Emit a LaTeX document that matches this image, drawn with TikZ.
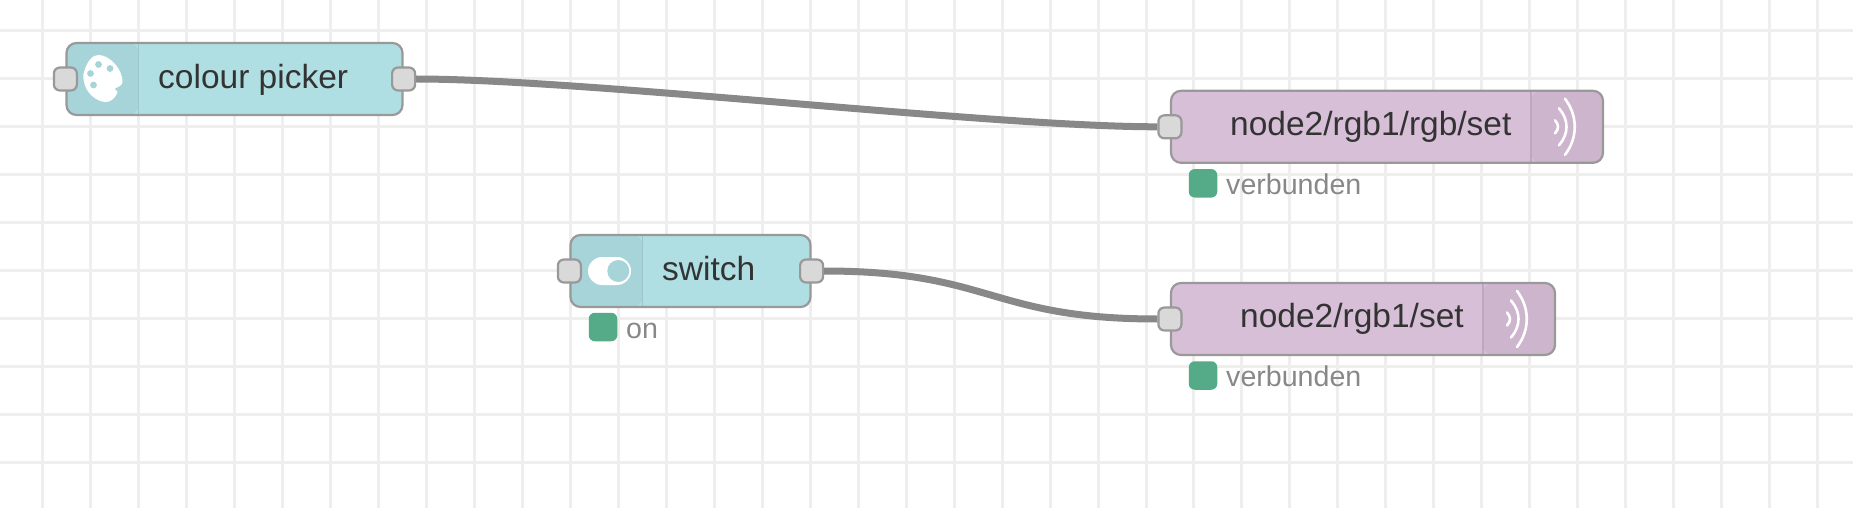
\documentclass[tikz,border=0pt]{standalone}
\usepackage{fontspec}
\setmainfont{Liberation Sans}
\definecolor{gridline}{HTML}{EEEEEE}
\definecolor{nodeline}{HTML}{999999}
\definecolor{tealfill}{HTML}{B0DFE3}
\definecolor{tealdark}{HTML}{A7D4D8}
\definecolor{tealedge}{HTML}{9CC6CA}
\definecolor{plumfill}{HTML}{D8BFD8}
\definecolor{plumdark}{HTML}{CDB5CD}
\definecolor{plumedge}{HTML}{BFA8BF}
\definecolor{portfill}{HTML}{D9D9D9}
\definecolor{wirecol}{HTML}{888888}
\definecolor{okgreen}{HTML}{55AA88}
\definecolor{labeltext}{HTML}{333333}
\tikzset{
	nodebox/.style={rectangle, draw=nodeline, line width=2.2pt, rounded corners=10pt, minimum height=72pt, inner sep=0pt},
	iconleft/.style={path picture={
		\fill[tealdark] (path picture bounding box.south west) rectangle ([xshift=72pt]path picture bounding box.north west);
		\draw[tealedge, line width=1.6pt] ([xshift=72pt]path picture bounding box.south west) -- ([xshift=72pt]path picture bounding box.north west);}},
	iconright/.style={path picture={
		\fill[plumdark] (path picture bounding box.south east) rectangle ([xshift=-72pt]path picture bounding box.north east);
		\draw[plumedge, line width=1.6pt] ([xshift=-72pt]path picture bounding box.south east) -- ([xshift=-72pt]path picture bounding box.north east);}},
	portbox/.style={rectangle, draw=nodeline, fill=portfill, line width=2.2pt, rounded corners=6pt, minimum width=23pt, minimum height=23pt, inner sep=0pt},
	dotbox/.style={rectangle, fill=okgreen, rounded corners=6pt, minimum width=28.5pt, minimum height=28.5pt, inner sep=0pt},
	titletext/.style={anchor=base west, inner sep=0pt, text=labeltext, font=\fontsize{33.5}{40}\selectfont},
	statetext/.style={anchor=base west, inner sep=0pt, text=wirecol, font=\fontsize{28.6}{34}\selectfont},
	wire/.style={draw=wirecol, line width=7pt},
}
\begin{document}
\begin{tikzpicture}[x=1pt, y=-1pt]
	\useasboundingbox (0,0) rectangle (1853,508);
	% grid
	\fill[white] (0,0) rectangle (1853,508);
	\foreach \k in {0,...,37}
		\draw[gridline, line width=3pt] ({42.7+47.97*\k},0) -- ({42.7+47.97*\k},508);
	\foreach \k in {0,...,9}
		\draw[gridline, line width=3pt] (0,{31+47.9*\k}) -- (1853,{31+47.9*\k});

	% nodes
	\node (picker) [nodebox, fill=tealfill, iconleft, minimum width=336pt] at (234.5,79) {};
	\node (switch) [nodebox, fill=tealfill, iconleft, minimum width=240pt] at (690.5,271) {};
	\node (rgbset) [nodebox, fill=plumfill, iconright, minimum width=432pt] at (1387,126.8) {};
	\node (onset) [nodebox, fill=plumfill, iconright, minimum width=384pt] at (1363,319) {};

	% ports
	\node (pickerin) [portbox] at (picker.west) {};
	\node (pickerout) [portbox] at (picker.east) {};
	\node (switchin) [portbox] at (switch.west) {};
	\node (switchout) [portbox] at (switch.east) {};
	\node (rgbin) [portbox] at (rgbset.west) {};
	\node (onin) [portbox] at (onset.west) {};

	% wires
	\draw[wire] (pickerout.east) .. controls +(167,0) and +(-167,0) .. (rgbin.west);
	\draw[wire] (switchout.east) .. controls +(167,0) and +(-167,0) .. (onin.west);

	% labels
	\node (pickertitle) [titletext] at (158,88.3) {colour picker};
	\node (switchtitle) [titletext] at (662,280.7) {switch};
	\node (rgbtitle) [titletext] at (1230,136) {node2/rgb1/rgb/set};
	\node (ontitle) [titletext] at (1240,327.7) {node2/rgb1/set};

	% status
	\node (switchdot) [dotbox] at (603,327) {};
	\node (switchstate) [statetext] at (626,338.3) {on};
	\node (rgbdot) [dotbox] at (1203,183.3) {};
	\node (rgbstate) [statetext] at (1226,194) {verbunden};
	\node (ondot) [dotbox] at (1203,375.5) {};
	\node (onstate) [statetext] at (1226,386) {verbunden};

	% palette icon
	\fill[white] (83.5,74) .. controls (87,60) and (93,55) .. (98.5,55)
		.. controls (110,55) and (123,70) .. (122.5,82)
		.. controls (122,87) and (116,87) .. (114.5,89)
		.. controls (115,91) and (118,90) .. (117.5,92)
		.. controls (115,99) and (110,102) .. (106,102)
		.. controls (95,102) and (82,90) .. (83.5,74) -- cycle;
	\foreach \dx/\dy in {98.5/64.5,110/68.5,90.5/73.5,93.5/85}
		\fill[tealdark] (\dx,\dy) circle (3.4pt);

	% switch icon
	\fill[white, rounded corners=14pt] (588,257) rectangle (631,285);
	\fill[tealdark] (618.3,271) circle (11pt);

	% mqtt icons
	\foreach \wx/\wy in {1531/126.8,1483/319}
		\draw[white, line width=2.6pt, line cap=round]
			(\wx+34,\wy-28) .. controls (\wx+47,\wy-11) and (\wx+47,\wy+11) .. (\wx+34,\wy+28)
			(\wx+28,\wy-18.5) .. controls (\wx+38,\wy-7) and (\wx+38,\wy+7) .. (\wx+28,\wy+18.5)
			(\wx+24,\wy-6.5) .. controls (\wx+28,\wy-2) and (\wx+28,\wy+2) .. (\wx+24,\wy+6.5);
\end{tikzpicture}
\end{document}
